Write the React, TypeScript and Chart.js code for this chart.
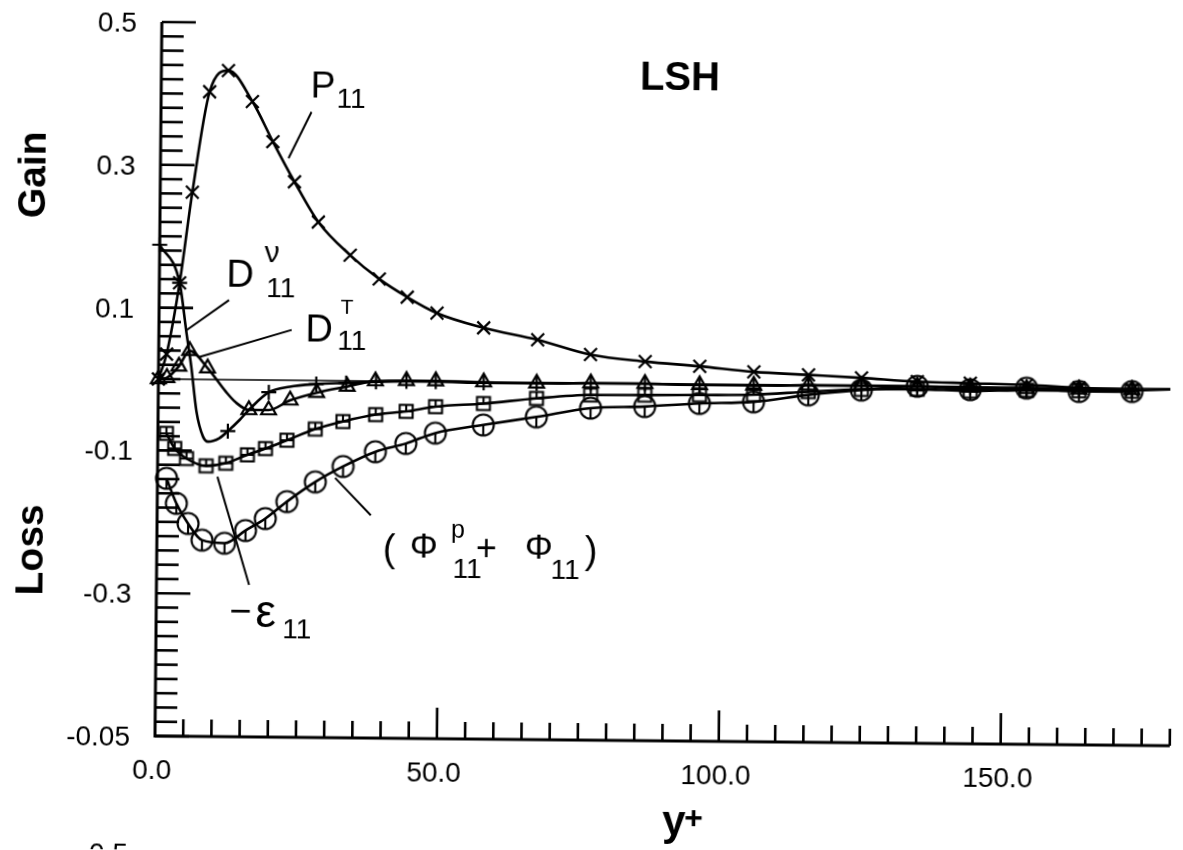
import React, { useEffect, useRef } from 'react';
import { Chart, registerables } from 'chart.js';

Chart.register(...registerables);

// ---------- axis ranges & ticks ----------
const X_MIN = 0;
const X_MAX = 180;
const Y_MIN = -0.5;
const Y_MAX = 0.5;

const yTickValues = [0.5, 0.3, 0.1, -0.1, -0.3, -0.5];
const yTickLabels = ['0.5', '0.3', '0.1', '-0.1', '-0.3', '-0.05'];
const xTickValues = [0, 50, 100, 150];
const xTickLabels = ['0.0', '50.0', '100.0', '150.0'];

// ---------- series (y+ positions and values) ----------
// P11 (x markers)
const p11X = [0, 1.4, 3.6, 5.7, 8.6, 11.9, 16.2, 19.9, 23.8, 28.1, 33.8, 39.0, 44.0, 49.3, 57.6, 67.2, 76.6, 86.3, 96.0, 105.6, 115.3, 124.7, 134.6, 144.0, 154.0, 163.3, 172.7];
const p11Y = [0, 0.035, 0.135, 0.262, 0.403, 0.433, 0.390, 0.334, 0.278, 0.222, 0.176, 0.143, 0.118, 0.096, 0.076, 0.060, 0.040, 0.031, 0.025, 0.018, 0.0145, 0.011, 0.0066, 0.005, 0.0034, 0.0, -0.002];

// D11^nu (+ markers)
const dnuX = [0, 3.6, 4.9, 5.8, 6.8, 8.0, 8.9, 10.9, 12.4, 14.5, 16.1, 19.6, 23.3, 28.0, 33.3, 38.6, 44.0, 49.2, 57.7, 67.1, 76.7, 86.3, 96.0, 105.6, 115.3, 124.7, 134.6, 144.0, 154.0, 163.3, 172.7];
const dnuY = [0.188, 0.135, 0.065, 0.018, -0.045, -0.080, -0.087, -0.082, -0.072, -0.056, -0.042, -0.017, -0.009, -0.005, -0.003, -0.001, 0.0, 0.0, -0.001, -0.001, 0.0, 0.0, -0.001, -0.001, 0.0, 0.0, 0.0, -0.001, -0.002, -0.002, -0.002];
const dnuMarked = [0, 1, 8, 11, 13, 14, 15, 16, 17, 18, 19, 20, 21, 22, 23, 24, 25, 26, 27, 28, 29, 30];

// D11^T (triangles)
const dtX = [0, 1.5, 3.6, 5.5, 8.7, 12.0, 13.8, 16.1, 19.6, 23.4, 28.1, 33.5, 38.5, 44.0, 49.2, 57.7, 67.1, 76.7, 86.3, 96.0, 105.6, 115.3, 124.7, 134.6, 144.0, 154.0, 163.3, 172.7];
const dtY = [0, 0.002, 0.018, 0.040, 0.016, -0.017, -0.032, -0.042, -0.042, -0.028, -0.017, -0.008, 0.0, 0.001, 0.001, 0.0, -0.001, 0.0, 0.0, -0.001, -0.001, 0.0, 0.0, 0.0, -0.001, -0.002, -0.002, -0.002];
const dtUnmarked = [5, 6];

// -eps11 (squares)
const epsX = [1.5, 3.0, 5.1, 8.6, 12.1, 15.9, 19.1, 22.9, 27.9, 32.8, 38.6, 44.0, 49.2, 57.7, 67.1, 76.7, 86.3, 96.0, 105.6, 115.3, 124.7, 134.6, 144.0, 154.0, 163.3, 172.7];
const epsY = [-0.076, -0.097, -0.111, -0.121, -0.117, -0.105, -0.096, -0.084, -0.068, -0.057, -0.047, -0.042, -0.035, -0.030, -0.022, -0.0165, -0.016, -0.015, -0.014, -0.009, -0.005, -0.004, -0.006, -0.004, -0.004, -0.004];

// (Phi^p11 + Phi11) (circles)
const phiX = [1.6, 3.4, 5.5, 8.0, 12.0, 15.7, 19.2, 23.0, 28.0, 32.9, 38.6, 44.0, 49.2, 57.7, 67.1, 76.7, 86.3, 96.0, 105.6, 115.3, 124.7, 134.6, 144.0, 154.0, 163.3, 172.7];
const phiY = [-0.139, -0.174, -0.202, -0.225, -0.229, -0.211, -0.194, -0.170, -0.142, -0.120, -0.099, -0.087, -0.072, -0.060, -0.048, -0.035, -0.032, -0.027, -0.024, -0.0135, -0.006, 0.0, -0.004, -0.001, -0.005, -0.0045];

// common tail where all curves merge
const tailX = [172.7, 179.5];
const tailY = [-0.003, -0.001];

// ---------- styling ----------
const INK = '#000';
const FONT = '"Liberation Sans", Arial, Helvetica, sans-serif';

// annotation labels anchored in data units; parts: [text, size, dx, dy]
const annotations: any[] = [
  { x: 26.5, y: 0.397, parts: [['P', 37, 0, 0], ['11', 28, 26, 10]] },
  { x: 11.9, y: 0.130, parts: [['D', 38, 0, 0], ['\u03BD', 30, 38, -25], ['11', 28, 40, 10]] },
  { x: 26.0, y: 0.055, parts: [['D', 38, 0, 0], ['T', 21, 35, -28], ['11', 28, 32, 8]] },
  { x: 12.98, y: -0.342, parts: [['\u2212', 38, 0, 0], ['\u03B5', 46, 26, 3], ['11', 28, 53, 14]] },
  {
    x: 40.1, y: -0.250, parts: [
      ['(', 38, 0, 1], ['\u03A6', 35, 27, -3], ['p', 25, 68, -23], ['11', 28, 70, 17],
      ['+', 36, 93, -1], ['\u03A6', 35, 142, -3], ['11', 28, 168, 17], [')', 38, 202, 1],
    ],
  },
];
const leaders = [
  [26.7, 0.376, 22.7, 0.311],
  [12.4, 0.1116, 4.94, 0.069],
  [23.55, 0.0705, 7.26, 0.0314],
  [10.63, -0.136, 16.43, -0.287],
  [31.5, -0.136, 37.9, -0.188],
];
const titleLSH = { x: 92.0, y: 0.412 };

function makeSquareStyle() {
  const c = document.createElement('canvas');
  c.width = 20; c.height = 20;
  const g = c.getContext('2d')!;
  g.strokeStyle = INK; g.lineWidth = 2.1;
  g.strokeRect(3.5, 3.5, 13, 13);
  g.beginPath();
  g.moveTo(10, 3.5); g.lineTo(10, 10);
  g.moveTo(3.5, 10); g.lineTo(16.5, 10);
  g.stroke();
  return c;
}

function makeCircleStyle() {
  const c = document.createElement('canvas');
  c.width = 26; c.height = 26;
  const g = c.getContext('2d')!;
  g.strokeStyle = INK; g.lineWidth = 2.1;
  g.beginPath(); g.arc(13, 13, 10.5, 0, Math.PI * 2); g.stroke();
  g.beginPath(); g.moveTo(13, 13); g.lineTo(13, 23.5); g.stroke();
  return c;
}

function pts(xs: number[], ys: number[]) {
  return xs.map((x, i) => ({ x, y: ys[i] }));
}

const decorPlugin = {
  id: 'decor',
  beforeDatasetsDraw(chart: any) {
    const { ctx, chartArea: a, scales } = chart;
    const xs = scales.x;
    const ys = scales.y;
    ctx.save();
    ctx.strokeStyle = INK;
    // zero reference line
    ctx.lineWidth = 1.6;
    ctx.beginPath();
    ctx.moveTo(xs.getPixelForValue(0), ys.getPixelForValue(0));
    ctx.lineTo(xs.getPixelForValue(179.5), ys.getPixelForValue(0));
    ctx.stroke();
    // axis lines
    ctx.lineWidth = 3;
    ctx.beginPath();
    ctx.moveTo(a.left, a.top);
    ctx.lineTo(a.left, a.bottom);
    ctx.lineTo(a.right, a.bottom);
    ctx.stroke();
    // inward ticks
    ctx.lineWidth = 2.6;
    for (let k = 0; k <= 50; k++) {
      const v = Y_MIN + k * 0.02;
      const major = yTickValues.some((t) => Math.abs(t - v) < 1e-6);
      const py = ys.getPixelForValue(v);
      ctx.beginPath();
      ctx.moveTo(a.left, py);
      ctx.lineTo(a.left + (major ? 34 : 22), py);
      ctx.stroke();
    }
    for (let k = 1; k <= 36; k++) {
      const v = k * 5;
      const major = v % 50 === 0;
      const px = xs.getPixelForValue(v);
      ctx.beginPath();
      ctx.moveTo(px, a.bottom);
      ctx.lineTo(px, a.bottom - (major ? 31 : 17));
      ctx.stroke();
    }
    ctx.restore();
  },
  afterDraw(chart: any) {
    const { ctx, chartArea: a, scales } = chart;
    const xs = scales.x;
    const ys = scales.y;
    ctx.save();
    ctx.fillStyle = INK;
    ctx.strokeStyle = INK;
    // tick labels
    ctx.font = `28px ${FONT}`;
    ctx.textBaseline = 'alphabetic';
    ctx.textAlign = 'right';
    yTickValues.forEach((v, i) => ctx.fillText(yTickLabels[i], a.left - 25, ys.getPixelForValue(v) + 10));
    ctx.textAlign = 'center';
    xTickValues.forEach((v, i) => ctx.fillText(xTickLabels[i], xs.getPixelForValue(v) - 3, a.bottom + 43));
    // cut-off label at the very bottom (from the next panel)
    ctx.textAlign = 'right';
    ctx.fillText('-0.5', a.left - 26, a.bottom + 127);

    // axis titles
    ctx.font = `bold 39px ${FONT}`;
    ctx.textAlign = 'center';
    ctx.save();
    ctx.translate(a.left - 115.4, 176);
    ctx.rotate(-Math.PI / 2);
    ctx.fillText('Gain', 0, 0);
    ctx.restore();
    ctx.save();
    ctx.translate(a.left - 113.8, 551);
    ctx.rotate(-Math.PI / 2);
    ctx.fillText('Loss', 0, 0);
    ctx.restore();
    ctx.textAlign = 'left';
    ctx.font = `bold 42px ${FONT}`;
    ctx.fillText('y', 663, a.bottom + 94);
    ctx.font = `bold 32px ${FONT}`;
    ctx.fillText('+', 685, a.bottom + 87);

    // LSH
    ctx.font = `bold 40px ${FONT}`;
    ctx.textAlign = 'center';
    ctx.fillText('LSH', xs.getPixelForValue(titleLSH.x), ys.getPixelForValue(titleLSH.y));

    // leader lines
    ctx.lineWidth = 2;
    leaders.forEach(([x1, y1, x2, y2]) => {
      ctx.beginPath();
      ctx.moveTo(xs.getPixelForValue(x1), ys.getPixelForValue(y1));
      ctx.lineTo(xs.getPixelForValue(x2), ys.getPixelForValue(y2));
      ctx.stroke();
    });

    // annotation labels
    ctx.textAlign = 'left';
    annotations.forEach((an) => {
      const x0 = xs.getPixelForValue(an.x);
      const y0 = ys.getPixelForValue(an.y);
      an.parts.forEach(([t, size, dx, dy]: any) => {
        ctx.font = `${size}px ${FONT}`;
        ctx.fillText(t, x0 + dx, y0 + dy);
      });
    });
    ctx.restore();
  },
};

export default function App() {
  const ref = useRef<HTMLCanvasElement | null>(null);

  useEffect(() => {
    if (!ref.current) return;
    const squareStyle = makeSquareStyle();
    const circleStyle = makeCircleStyle();
    const dnuSet = new Set(dnuMarked);
    const dtSkip = new Set(dtUnmarked);

    const base = {
      showLine: true,
      borderColor: INK,
      borderWidth: 2.6,
      cubicInterpolationMode: 'monotone',
      pointBorderColor: INK,
      pointBackgroundColor: 'rgba(0,0,0,0)',
      pointBorderWidth: 2.2,
      clip: false,
    };

    const chart = new Chart(ref.current, {
      type: 'scatter',
      data: {
        datasets: [
          { ...base, label: 'P11', data: pts(p11X, p11Y), pointStyle: 'crossRot', pointRadius: 9 },
          {
            ...base, label: 'D11nu', data: pts(dnuX, dnuY), pointStyle: 'cross',
            pointRadius: (c: any) => (dnuSet.has(c.dataIndex) ? 7.5 : 0),
          },
          {
            ...base, label: 'D11T', data: pts(dtX, dtY), pointStyle: 'triangle',
            pointRadius: (c: any) => (dtSkip.has(c.dataIndex) ? 0 : 8.5),
          },
          { ...base, label: '-eps11', data: pts(epsX, epsY), pointStyle: squareStyle, pointRadius: 9 },
          { ...base, label: 'Phi11', data: pts(phiX, phiY), pointStyle: circleStyle, pointRadius: 11 },
          { ...base, label: 'tail', data: pts(tailX, tailY), pointRadius: 0 },
        ] as any,
      },
      options: {
        animation: false,
        responsive: false,
        devicePixelRatio: 1,
        events: [],
        layout: { padding: { left: 155, top: 22, right: 3, bottom: 114 } },
        plugins: { legend: { display: false }, tooltip: { enabled: false }, title: { display: false } },
        scales: {
          x: { type: 'linear', min: X_MIN, max: X_MAX, display: false },
          y: { type: 'linear', min: Y_MIN, max: Y_MAX, display: false },
        },
      } as any,
      plugins: [decorPlugin],
    });
    return () => chart.destroy();
  }, []);

  return (
    <div style={{ position: 'fixed', left: 0, top: 0, width: 1183, height: 850, overflow: 'hidden', background: '#fff' }}>
      <canvas
        ref={ref}
        width={1183}
        height={850}
        style={{ display: 'block', width: 1183, height: 850, transform: 'rotate(0.55deg)', transformOrigin: '155px 736px' }}
      />
    </div>
  );
}
